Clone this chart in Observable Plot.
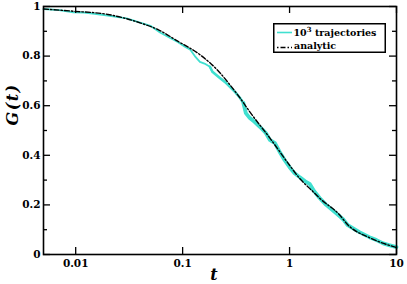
<!DOCTYPE html>
<html><head><meta charset="utf-8">
<script src="https://cdn.jsdelivr.net/npm/d3@7"></script>
<script src="https://cdn.jsdelivr.net/npm/@observablehq/plot@0.6"></script>
<style>
body{margin:0;background:#fff;}
#wrap{position:relative;width:407px;height:284px;}
#legend{position:absolute;left:273px;top:23px;}
</style></head><body><div id="wrap"></div>
<script>
const xTicks = [0.01, 0.1, 1, 10];
const xTickLabels = ["0.01", "0.1", "1", "10"];
const yMajor = [0, 0.2, 0.4, 0.6, 0.8, 1];
const yTickLabels = ["0", "0.2", "0.4", "0.6", "0.8", "1"];
const yMinor = [0.1, 0.3, 0.5, 0.7, 0.9];

const tAnalytic = [0.005, 0.0095, 0.02, 0.04, 0.06, 0.09, 0.145, 0.223, 0.277, 0.343, 0.425, 0.653, 1.0, 1.24, 1.6, 1.91, 2.93, 3.5, 5.58, 10];
const gAnalytic = [0.99, 0.981, 0.968, 0.934, 0.905, 0.86, 0.806, 0.733, 0.684, 0.632, 0.575, 0.47, 0.36, 0.307, 0.26, 0.227, 0.16, 0.12, 0.068, 0.028];

const tSim = [0.005, 0.007, 0.0095, 0.012, 0.015, 0.02, 0.03, 0.04, 0.05, 0.0615, 0.075, 0.09, 0.105, 0.118, 0.13, 0.145, 0.16, 0.18, 0.19, 0.205, 0.223, 0.25, 0.277, 0.31, 0.343, 0.37, 0.39, 0.425, 0.47, 0.53, 0.6, 0.653, 0.73, 0.82, 0.9, 1.0, 1.1, 1.24, 1.4, 1.54, 1.7, 1.91, 2.2, 2.5, 2.93, 3.2, 3.5, 4.0, 4.5, 5.0, 5.58, 6.5, 7.5, 8.5, 10];
const gSim = [0.99, 0.985, 0.976, 0.975, 0.97, 0.963, 0.952, 0.935, 0.922, 0.895, 0.875, 0.857, 0.838, 0.826, 0.80, 0.777, 0.77, 0.757, 0.737, 0.725, 0.712, 0.695, 0.676, 0.655, 0.632, 0.611, 0.57, 0.55, 0.535, 0.514, 0.49, 0.462, 0.449, 0.409, 0.38, 0.352, 0.33, 0.312, 0.295, 0.285, 0.255, 0.228, 0.2, 0.18, 0.155, 0.14, 0.118, 0.103, 0.09, 0.08, 0.07, 0.058, 0.045, 0.038, 0.03];

const analytic = tAnalytic.map((t, i) => ({t, g: gAnalytic[i]}));
const sim = tSim.map((t, i) => ({t, g: gSim[i]}));

const W = 407, H = 284, mL = 43, mR = 11, mT = 6, mB = 30;
const pw = W - mL - mR, ph = H - mT - mB;
const font = "DejaVu Serif";

const chart = Plot.plot({
  width: W, height: H,
  marginLeft: mL, marginRight: mR, marginTop: mT, marginBottom: mB,
  style: {fontFamily: font, background: "#fff"},
  x: {type: "log", domain: [0.005, 10]},
  y: {domain: [0, 1]},
  marks: [
    Plot.line(sim.filter(d => d.t <= 0.2), {x: "t", y: "g", stroke: "#40e0d0", strokeWidth: 1.8}),
    Plot.line(sim.filter(d => d.t >= 0.18 && d.t <= 0.4), {x: "t", y: "g", stroke: "#40e0d0", strokeWidth: 2.6}),
    Plot.line(sim.filter(d => d.t >= 0.37), {x: "t", y: "g", stroke: "#40e0d0", strokeWidth: 3.8}),
    Plot.line(analytic, {x: "t", y: "g", stroke: "#000", strokeWidth: 1.4, strokeDasharray: "5,2,1.5,2", curve: "monotone-x"}),
    Plot.tickY(yMajor, {y: d => d, insetRight: pw - 7, stroke: "#000", strokeWidth: 1.3}),
    Plot.tickY(yMajor, {y: d => d, insetLeft: pw - 7, stroke: "#000", strokeWidth: 1.3}),
    Plot.tickY(yMinor, {y: d => d, insetRight: pw - 4, stroke: "#000", strokeWidth: 1.3}),
    Plot.tickY(yMinor, {y: d => d, insetLeft: pw - 4, stroke: "#000", strokeWidth: 1.3}),
    Plot.tickX(xTicks, {x: d => d, insetTop: ph - 7, stroke: "#000", strokeWidth: 1.3}),
    Plot.tickX(xTicks, {x: d => d, insetBottom: ph - 7, stroke: "#000", strokeWidth: 1.3}),
    Plot.frame({stroke: "#000", strokeWidth: 1.6}),
    Plot.axisX({ticks: xTicks, tickFormat: d => xTickLabels[xTicks.indexOf(d)], tickSize: 0, tickPadding: 5, fontSize: 10.5, fontWeight: "bold", fontFamily: font, fill: "#000", label: null}),
    Plot.axisY({ticks: yMajor, tickFormat: d => yTickLabels[yMajor.indexOf(d)], tickSize: 0, tickPadding: 3, fontSize: 10.5, fontWeight: "bold", fontFamily: font, fill: "#000", label: null}),
    Plot.text(["G(t)"], {frameAnchor: "left", dx: -31, dy: -5, rotate: -90, fontStyle: "italic", fontWeight: "bold", fontSize: 16, fontFamily: font, fill: "#000"}),
    Plot.text(["t"], {frameAnchor: "bottom", dx: -6, dy: 25, fontStyle: "italic", fontWeight: "bold", fontSize: 16, fontFamily: font, fill: "#000"})
  ]
});

d3.select(chart).selectAll("text").filter(function () { return this.textContent === "G(t)"; }).style("letter-spacing", "1.5px");

const wrap = document.getElementById("wrap");
wrap.appendChild(chart);

const legend = document.createElement("div");
legend.id = "legend";
legend.innerHTML = `<svg width="113" height="30" xmlns="http://www.w3.org/2000/svg" style="display:block">
<rect x="0.75" y="0.75" width="111.5" height="28.5" fill="#fff" stroke="#000" stroke-width="1.5"/>
<line x1="4" x2="19" y1="9.5" y2="9.5" stroke="#40e0d0" stroke-width="1.6"/>
<line x1="4" x2="19" y1="24.5" y2="24.5" stroke="#000" stroke-width="1.4" stroke-dasharray="1.5,2,5,2"/>
<text x="20.5" y="13" font-family="${font}" font-weight="bold" font-size="9.5">10<tspan font-size="7" dy="-4">3</tspan><tspan dy="4"> trajectories</tspan></text>
<text x="21" y="26" font-family="${font}" font-weight="bold" font-size="9.5">analytic</text>
</svg>`;
wrap.appendChild(legend);
</script>
</body></html>
